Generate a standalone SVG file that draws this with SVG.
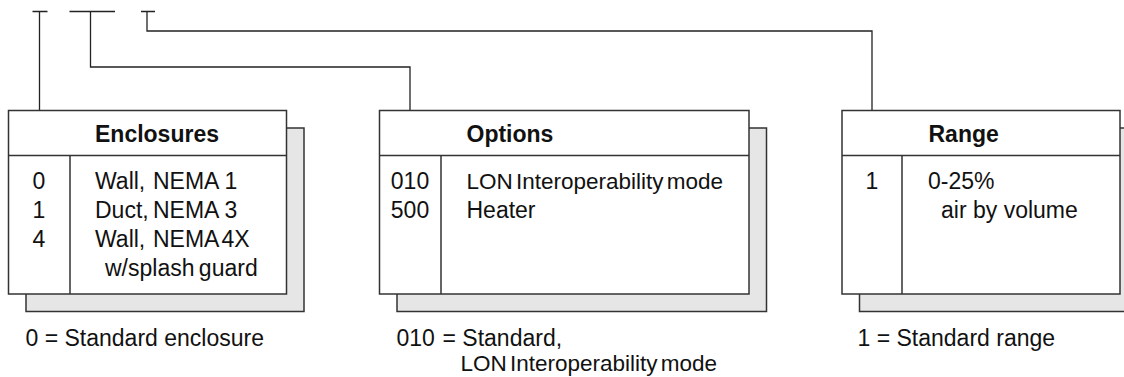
<svg xmlns="http://www.w3.org/2000/svg" width="1124" height="377" viewBox="0 0 1124 377">
<style>
.shadow{fill:#e6e6e6;stroke:#333;stroke-width:1.5}
.box{fill:#fff;stroke:#333;stroke-width:1.5}
.ln{fill:none;stroke:#333;stroke-width:1.5}
.conn{fill:none;stroke:#222;stroke-width:1.3}
text{font-family:"Liberation Sans",Arial,sans-serif;font-size:23px;fill:#111}
.hd{font-weight:bold}
.num{text-anchor:middle}
.lon{font-size:22.5px;word-spacing:-3px}
</style>
<rect width="1124" height="377" fill="#fff"/>
<g id="connectors">
<path class="conn" d="M32.5 11.5H47.5M39.5 11.5V110"/>
<path class="conn" d="M69.5 11.5H115M90.5 11.5V67H410V110"/>
<path class="conn" d="M141 11.5H155M147 11.5V31H872V110"/>
</g>
<g id="enclosures">
<rect class="shadow" x="26" y="128" width="278" height="183.5"/>
<rect class="box" x="8.5" y="110.5" width="278" height="183.5"/>
<path class="ln" d="M8.5 155.5H286.5M70 155.5V294"/>
<text class="hd" x="95" y="141.5">Enclosures</text>
<text class="num" x="39" y="189">0</text>
<text class="num" x="39" y="218">1</text>
<text class="num" x="39" y="247">4</text>
<text x="95" y="189">Wall,<tspan x="153">NEMA 1</tspan></text>
<text x="95" y="218">Duct,<tspan x="153">NEMA 3</tspan></text>
<text x="95" y="247">Wall,<tspan x="153" word-spacing="-3">NEMA 4X</tspan></text>
<text x="105" y="276" word-spacing="-2">w/splash guard</text>
<text x="25.5" y="346">0 = Standard enclosure</text>
</g>
<g id="options">
<rect class="shadow" x="397" y="128" width="369.5" height="183.5"/>
<rect class="box" x="379.5" y="110.5" width="369.5" height="183.5"/>
<path class="ln" d="M379.5 155.5H749M441 155.5V294"/>
<text class="hd" x="466.5" y="141.5">Options</text>
<text class="num" x="410" y="189">010</text>
<text class="num" x="410" y="218">500</text>
<text class="lon" x="466.5" y="189">LON Interoperability mode</text>
<text x="466.5" y="218">Heater</text>
<text x="396.5" y="346">010</text>
<text x="442.5" y="346">= Standard,</text>
<text class="lon" x="460.5" y="371">LON Interoperability mode</text>
</g>
<g id="range">
<rect class="shadow" x="859.5" y="128" width="278" height="183.5"/>
<rect class="box" x="842" y="110.5" width="278" height="183.5"/>
<path class="ln" d="M842 155.5H1120M902 155.5V294"/>
<text class="hd" x="928.5" y="141.5">Range</text>
<text class="num" x="872" y="189">1</text>
<text x="928" y="189">0-25%</text>
<text x="941" y="218">air by volume</text>
<text x="857.5" y="346">1 = Standard range</text>
</g>
</svg>
